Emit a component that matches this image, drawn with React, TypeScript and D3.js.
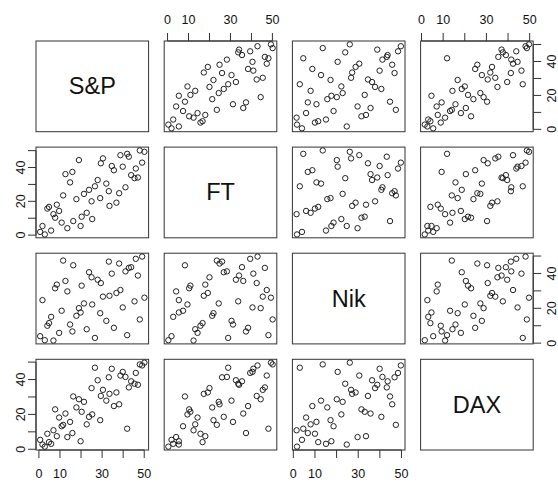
import React from 'react';
import * as d3 from 'd3';

// Scatterplot-matrix of four index series (50 observations each)
const varNames = ['S&P', 'FT', 'Nik', 'DAX'];

const sp = [0.6, 1.7, 2.8, 4.0, 4.8, 5.8, 6.9, 7.7, 8.5, 9.6, 10.8, 11.5, 12.6, 13.5, 14.8, 15.9, 16.3, 17.8, 19.0, 19.8, 20.3, 21.4, 22.7, 23.8, 25.0, 25.3, 26.6, 27.9, 29.1, 29.4, 30.4, 32.0, 33.2, 33.5, 34.6, 35.6, 36.8, 38.1, 38.7, 39.8, 41.1, 41.9, 42.7, 43.8, 45.4, 46.0, 47.0, 47.9, 49.0, 50.1];
const ft = [1.9, 5.4, 0.4, 15.7, 16.7, 2.7, 12.4, 10.3, 18.0, 14.3, 7.4, 23.5, 36.1, 4.1, 31.2, 37.4, 8.3, 21.3, 44.4, 5.4, 10.9, 24.4, 13.2, 26.8, 20.0, 9.5, 28.9, 32.6, 21.9, 42.5, 45.4, 30.5, 26.0, 17.3, 40.9, 38.4, 19.2, 24.8, 47.3, 40.5, 28.3, 48.1, 46.4, 35.5, 33.7, 39.4, 34.1, 50.1, 42.9, 49.3];
const nik = [4.0, 24.7, 1.7, 10.0, 11.5, 15.1, 1.5, 31.5, 33.6, 5.9, 18.6, 47.4, 35.7, 29.7, 10.7, 6.7, 44.7, 15.7, 20.1, 17.6, 33.0, 22.8, 8.0, 40.7, 37.8, 22.2, 3.0, 36.4, 17.2, 34.5, 26.7, 12.8, 46.8, 27.2, 39.9, 8.8, 28.8, 45.7, 30.5, 20.5, 41.2, 4.6, 43.2, 43.6, 24.0, 48.4, 38.8, 13.6, 49.7, 26.1];
const dax = [5.4, 2.7, 1.5, 8.9, 4.1, 3.1, 10.9, 22.9, 7.5, 18.2, 13.2, 14.0, 20.5, 7.0, 15.7, 9.3, 30.3, 24.0, 28.7, 4.6, 21.5, 27.2, 14.3, 18.6, 35.1, 20.0, 46.8, 39.6, 16.7, 30.6, 34.1, 27.9, 41.3, 31.8, 46.2, 24.8, 32.6, 25.8, 42.3, 44.4, 41.5, 11.8, 35.5, 39.0, 37.6, 43.8, 37.0, 48.7, 48.1, 49.7];

const tickValues = [0, 10, 20, 30, 40, 50];
const hTickLabels = [0, 10, 30, 50];
const vTickLabels = [0, 20, 40];

const W = 558;
const H = 482;
const left0 = 36;
const top0 = 41;
const pw = 112.6;
const ph = 90.7;
const hgap = 15.6;
const vgap = 15.4;
const tickLen = 8;
const ink = '#333';
const font = '"Liberation Sans", Arial, sans-serif';

export default function App() {
  const series = [sp, ft, nik, dax];
  const n = series.length;

  const domains = series.map((s) => {
    const [a, b] = d3.extent(s) as [number, number];
    const r = b - a;
    return [a - 0.04 * r, b + 0.04 * r];
  });

  const colLeft = (j: number) => left0 + j * (pw + hgap);
  const rowTop = (i: number) => top0 + i * (ph + vgap);
  const xScale = (j: number) =>
    d3.scaleLinear().domain(domains[j]).range([colLeft(j), colLeft(j) + pw]);
  const yScale = (i: number) =>
    d3.scaleLinear().domain(domains[i]).range([rowTop(i) + ph, rowTop(i)]);

  const panels: React.ReactNode[] = [];
  for (let i = 0; i < n; i++) {
    for (let j = 0; j < n; j++) {
      const x = colLeft(j);
      const y = rowTop(i);
      const key = `p-${i}-${j}`;
      if (i === j) {
        panels.push(
          <g key={key}>
            <rect x={x} y={y} width={pw} height={ph} fill="none" stroke={ink} strokeWidth={1} />
            <text
              x={x + pw / 2}
              y={y + ph / 2}
              textAnchor="middle"
              dominantBaseline="central"
              fontFamily={font}
              fontSize={23.5}
              fill="#111"
            >
              {varNames[i]}
            </text>
          </g>
        );
      } else {
        const xs = xScale(j);
        const ys = yScale(i);
        const xv = series[j];
        const yv = series[i];
        panels.push(
          <g key={key}>
            <rect x={x} y={y} width={pw} height={ph} fill="none" stroke={ink} strokeWidth={1} />
            {xv.map((v, k) => (
              <circle
                key={k}
                cx={xs(v)}
                cy={ys(yv[k])}
                r={2.7}
                fill="none"
                stroke="#222"
                strokeWidth={1}
              />
            ))}
          </g>
        );
      }
    }
  }

  // Outer axes alternate sides as in a pairs plot
  const axes: React.ReactNode[] = [];
  for (let j = 0; j < n; j++) {
    const xs = xScale(j);
    const onTop = j % 2 === 1;
    const yAxis = onTop ? rowTop(0) : rowTop(n - 1) + ph;
    const dir = onTop ? -1 : 1;
    const [d0, d1] = xs.domain();
    axes.push(
      <g key={`xa-${j}`}>
        <line x1={xs(0)} x2={xs(50)} y1={yAxis} y2={yAxis} stroke={ink} strokeWidth={1} />
        {tickValues
          .filter((t) => t >= d0 && t <= d1)
          .map((t) => (
            <line key={t} x1={xs(t)} x2={xs(t)} y1={yAxis} y2={yAxis + dir * tickLen} stroke={ink} strokeWidth={1} />
          ))}
        {hTickLabels.map((t) => (
          <text
            key={`l${t}`}
            x={xs(t)}
            y={onTop ? 24 : 478}
            textAnchor="middle"
            fontFamily={font}
            fontSize={12.5}
            fill="#111"
          >
            {t}
          </text>
        ))}
      </g>
    );
  }
  for (let i = 0; i < n; i++) {
    const ys = yScale(i);
    const onRight = i % 2 === 0;
    const xAxis = onRight ? colLeft(n - 1) + pw : colLeft(0);
    const dir = onRight ? 1 : -1;
    const labelX = onRight ? 552 : 21.5;
    axes.push(
      <g key={`ya-${i}`}>
        <line x1={xAxis} x2={xAxis} y1={ys(0)} y2={ys(50)} stroke={ink} strokeWidth={1} />
        {tickValues.map((t) => (
          <line key={t} x1={xAxis} x2={xAxis + dir * tickLen} y1={ys(t)} y2={ys(t)} stroke={ink} strokeWidth={1} />
        ))}
        {vTickLabels.map((t) => (
          <text
            key={`l${t}`}
            x={labelX}
            y={ys(t)}
            transform={`rotate(-90 ${labelX} ${ys(t)})`}
            textAnchor="middle"
            dominantBaseline="central"
            fontFamily={font}
            fontSize={12.5}
            fill="#111"
          >
            {t}
          </text>
        ))}
      </g>
    );
  }

  return (
    <div style={{ position: 'absolute', left: 0, top: 0 }}>
      <svg width={W} height={H} viewBox={`0 0 ${W} ${H}`} style={{ display: 'block', background: '#fff' }}>
        <rect x={0} y={0} width={W} height={H} fill="#fff" />
        {panels}
        {axes}
      </svg>
    </div>
  );
}
